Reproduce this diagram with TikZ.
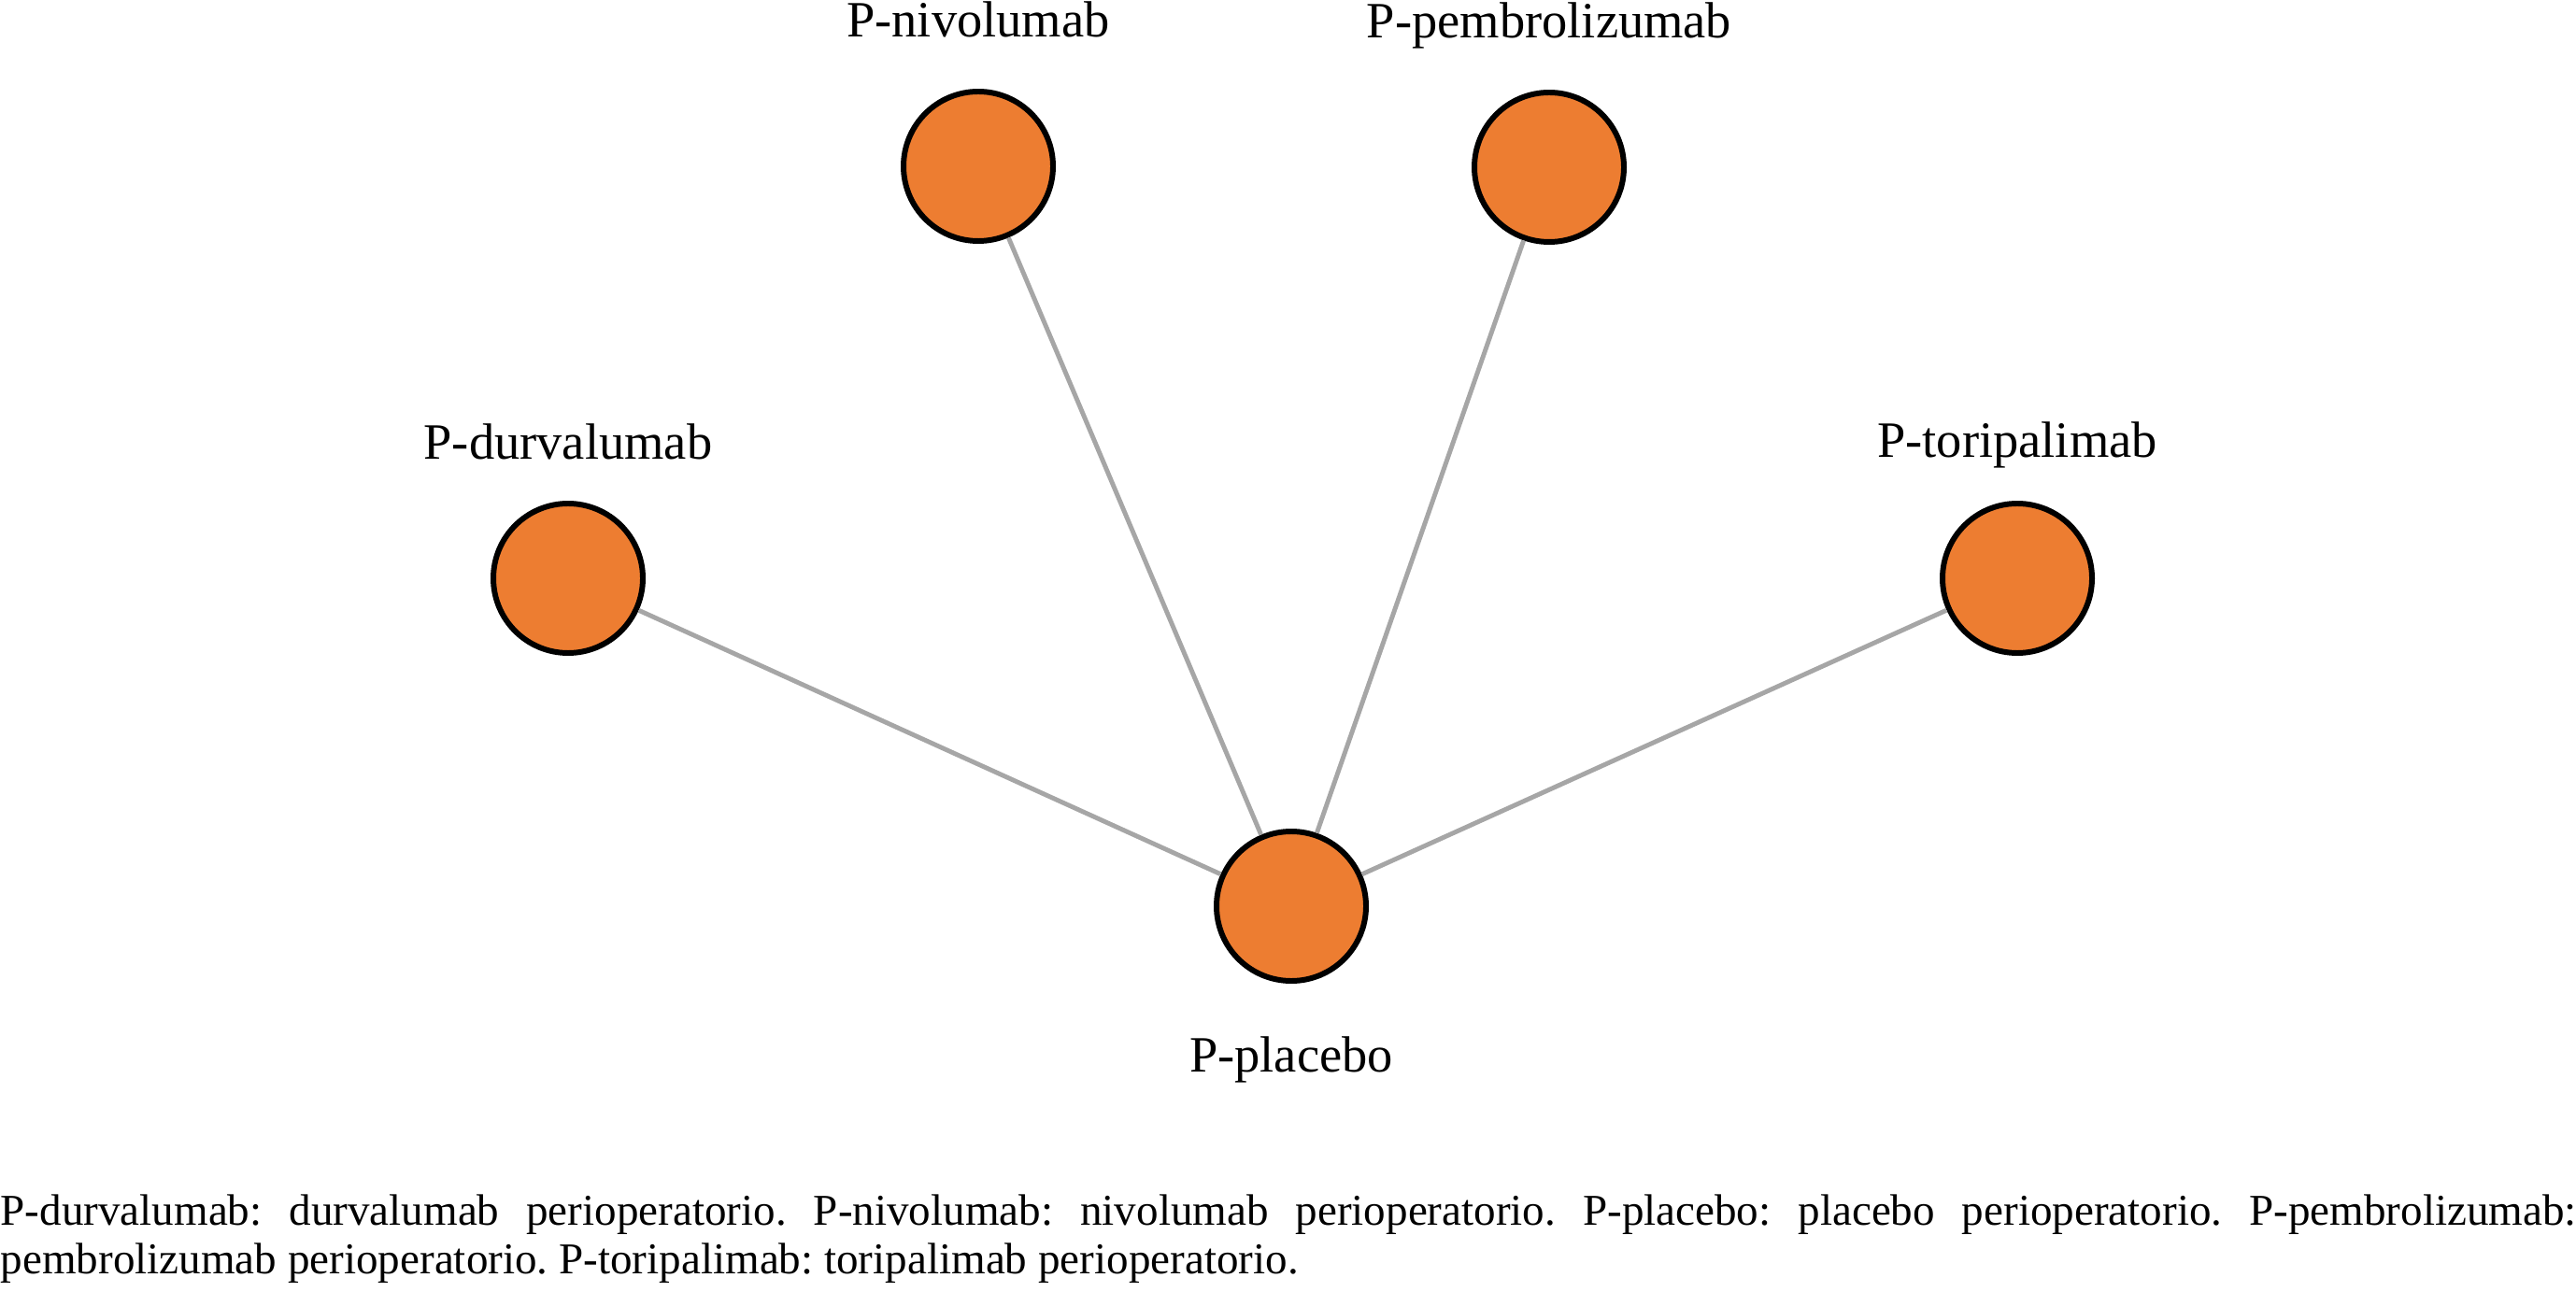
\documentclass[tikz,border=0pt]{standalone}
\usepackage{fontspec}
\setmainfont{Liberation Serif}
\usepackage{xcolor}
\usetikzlibrary{positioning}
\definecolor{nodeorange}{HTML}{ED7D31}
\definecolor{linkgray}{HTML}{A6A6A6}

\begin{document}
\begin{tikzpicture}[node distance=0.5cm,
      drug/.style={circle, draw=black, line width=1.7pt, fill=nodeorange, minimum size=1.6cm, inner sep=0pt},
      lbl/.style={font=\fontsize{15.5}{18}\selectfont, inner sep=0pt, anchor=base},
      link/.style={draw=linkgray, line width=1.4pt}]

    \useasboundingbox (0,0) rectangle (27.57,13.82);

    % network nodes
    \node[drug] (durv) at (6.08,7.63) {};
    \node[drug] (nivo) at (10.47,12.04) {};
    \node[drug] (pemb) at (16.58,12.03) {};
    \node[drug] (tori) at (21.59,7.63) {};
    \node[drug] (plac) at (13.82,4.12) {};

    \node[lbl, above=0.45cm of durv, anchor=base] (durvlbl) {P-durvalumab};
    \node[lbl, above=0.56cm of nivo, anchor=base] (nivolbl) {P-nivolumab};
    \node[lbl, above=0.56cm of pemb, anchor=base] (pemblbl) {P-pembrolizumab};
    \node[lbl, above=0.47cm of tori, anchor=base] (torilbl) {P-toripalimab};
    \node[lbl, below=0.95cm of plac, anchor=base] (placlbl) {P-placebo};

    % comparisons against placebo
    \draw[link] (plac) -- (durv);
    \draw[link] (plac) -- (nivo);
    \draw[link] (plac) -- (pemb);
    \draw[link] (plac) -- (tori);

    % footnote
    \node[anchor=north west, inner sep=0pt, text width=27.57cm, align=justify,
          font=\fontsize{13.4}{14.8}\selectfont] (note) at (0,1.04)
      {\frenchspacing\hyphenpenalty=10000 P-durvalumab: durvalumab perioperatorio. P-nivolumab: nivolumab perioperatorio. P-placebo: placebo perioperatorio. P-pembrolizumab:\linebreak pembrolizumab perioperatorio. P-toripalimab: toripalimab perioperatorio.};
  \end{tikzpicture}
\end{document}
